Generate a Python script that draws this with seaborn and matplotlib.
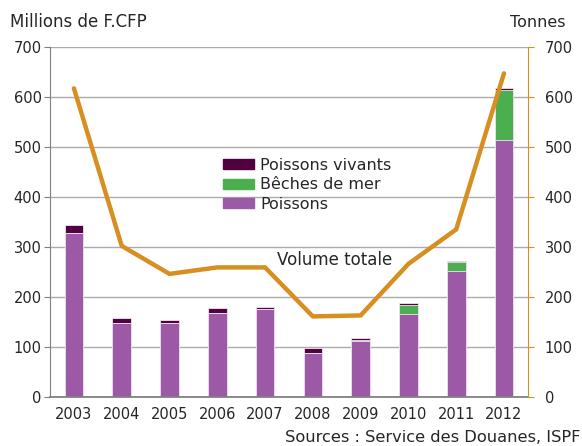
import numpy as np
import pandas as pd
import matplotlib
matplotlib.use('Agg')
import matplotlib.pyplot as plt
import seaborn as sns
from matplotlib.patches import Patch

annees = ['2003', '2004', '2005', '2006', '2007', '2008', '2009', '2010', '2011', '2012']
poissons = [327, 148, 148, 168, 176, 88, 111, 165, 252, 514]
beches = [0, 0, 0, 0, 0, 0, 2, 18, 18, 99]
vivants = [17, 9, 6, 9, 3, 9, 5, 4, 2, 4]
volume = [617, 302, 246, 259, 259, 161, 163, 266, 335, 647]

c_poissons = '#9b59a6'
c_beches = '#4bae4f'
c_vivants = '#52003f'
c_volume = '#d68f20'
c_grid = '#ababab'
c_text = '#262626'

df = pd.DataFrame({'annee': annees, 'poissons': poissons,
                   'beches': beches, 'vivants': vivants, 'volume': volume})
df['p_b'] = df['poissons'] + df['beches']
df['total'] = df['p_b'] + df['vivants']

sns.set_style('white')
plt.rcParams['font.family'] = ['DejaVu Sans']
plt.rcParams['font.size'] = 10.5

fig = plt.figure(figsize=(5.82, 4.46), dpi=100)
ax = fig.add_axes([0.086, 0.11, 0.821, 0.785])

# barres empilees : on dessine les cumuls du plus grand au plus petit
for col, couleur in [('total', c_vivants), ('p_b', c_beches), ('poissons', c_poissons)]:
    sns.barplot(data=df, x='annee', y=col, color=couleur, width=0.39,
                edgecolor='#f0e6f0', linewidth=0.6, saturation=1, ax=ax)

ax.set_ylim(0, 700)
ax.set_xlim(-0.5, 9.5)
ax.set_yticks(range(0, 701, 100))
ax.yaxis.grid(True, color=c_grid, linewidth=1)
ax.set_axisbelow(True)
ax.set_xlabel('')
ax.set_ylabel('')
for s in ['top', 'right']:
    ax.spines[s].set_visible(False)
ax.spines['left'].set_color('#808080')
ax.spines['bottom'].set_color('#808080')
ax.spines['bottom'].set_linewidth(1.3)
ax.tick_params(axis='y', length=4, color='#808080', labelcolor=c_text, pad=2)
ax.set_xticks(np.arange(10))
ax.set_xticklabels(annees, color=c_text)
ax.tick_params(axis='x', length=0, pad=7)
ax.set_xticks(np.arange(-0.5, 10, 1), minor=True)
ax.tick_params(axis='x', which='minor', length=4, color='#808080', direction='out')

ax2 = ax.twinx()
sns.lineplot(x=np.arange(10), y=df['volume'], color=c_volume, linewidth=3.2,
             solid_joinstyle='miter', ax=ax2)
ax2.set_ylim(0, 700)
ax2.set_yticks(range(0, 701, 100))
ax2.set_ylabel('')
for s in ['top', 'left', 'bottom']:
    ax2.spines[s].set_visible(False)
ax2.spines['right'].set_color(c_volume)
ax2.tick_params(axis='y', length=4, color=c_volume, labelcolor=c_text, pad=8)
ax.set_xlim(-0.5, 9.5)

ax.text(4.25, 274, 'Volume totale', ha='left', va='center', color=c_text, fontsize=12)

handles = [Patch(color=c_vivants), Patch(color=c_beches), Patch(color=c_poissons)]
fig.legend(handles, ['Poissons vivants', 'Bêches de mer', 'Poissons'],
           loc='upper left', bbox_to_anchor=(0.37, 0.664), frameon=False,
           handlelength=1.9, handleheight=0.62, labelspacing=0.28,
           handletextpad=0.4, fontsize=11.5, borderpad=0)

fig.text(0.017, 0.95, 'Millions de F.CFP', ha='left', va='center', color=c_text, fontsize=12)
fig.text(0.972, 0.95, 'Tonnes', ha='right', va='center', color=c_text, fontsize=11.5)
fig.text(0.997, 0.018, 'Sources : Service des Douanes, ISPF', ha='right', va='center',
         color=c_text, fontsize=11.7)

fig.savefig('out.png', dpi=100)
